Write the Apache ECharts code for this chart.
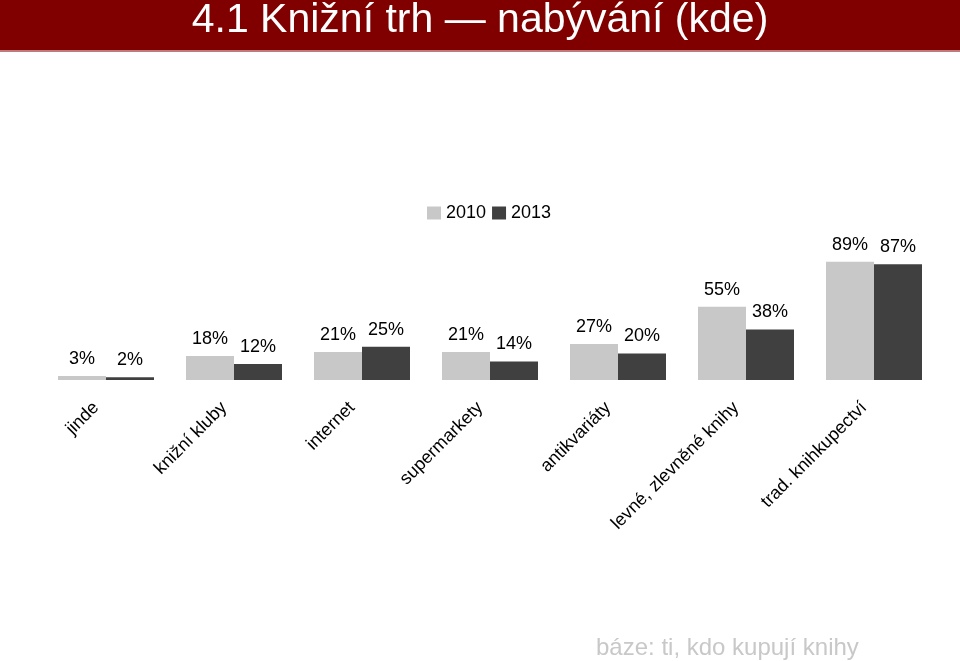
<!DOCTYPE html>
<html>
<head>
<meta charset="utf-8">
<script src="https://cdn.jsdelivr.net/npm/echarts@6/dist/echarts.min.js"></script>
<style>
html,body{margin:0;padding:0;background:#fff;}
#chart{width:960px;height:661px;}
</style>
</head>
<body>
<div id="chart"></div>
<script>
var categories = ['jinde', 'knižní kluby', 'internet', 'supermarkety', 'antikvariáty', 'levné, zlevněné knihy', 'trad. knihkupectví'];
var values2010 = [3, 18, 21, 21, 27, 55, 89];
var values2013 = [2, 12, 25, 14, 20, 38, 87];
var seriesNames = ['2010', '2013'];
var titleText = '4.1 Knižní trh — nabývání (kde)';
var footerText = 'báze: ti, kdo kupují knihy';

var chart = echarts.init(document.getElementById('chart'));
var font = '"Liberation Sans", Arial, sans-serif';
function pctLabel(p) { return p.value + '%'; }
chart.setOption({
  animation: false,
  backgroundColor: '#ffffff',
  textStyle: { fontFamily: font },
  graphic: [
    { type: 'rect', left: 0, top: 0, shape: { width: 960, height: 50 }, style: { fill: '#800000' }, z: 0 },
    { type: 'rect', left: 0, top: 50, shape: { width: 960, height: 2 }, style: { fill: '#c07a7a' }, z: 0 },
    { type: 'text', left: 'center', top: 0, style: { text: titleText, fill: '#ffffff', font: '41px ' + font }, z: 10 },
    { type: 'text', left: 596, top: 636, style: { text: footerText, fill: '#c8c8c8', font: '24px ' + font }, z: 10 }
  ],
  legend: {
    left: 422, top: 199,
    itemWidth: 14, itemHeight: 13, itemGap: 6,
    icon: 'rect',
    textStyle: { fontSize: 18, color: '#000', fontFamily: font },
    data: seriesNames
  },
  grid: { left: 42, right: 22, top: 247, bottom: 281 },
  xAxis: {
    type: 'category',
    data: categories,
    axisLine: { show: false },
    axisTick: { show: false },
    axisLabel: { rotate: 45, fontSize: 18, color: '#000', margin: 15, padding: [0, 14, 0, 0], fontFamily: font, interval: 0 }
  },
  yAxis: { type: 'value', min: 0, max: 100, show: false, splitLine: { show: false } },
  series: [
    {
      name: seriesNames[0], type: 'bar', data: values2010, barWidth: 48, barGap: '0%',
      itemStyle: { color: '#c8c8c8' },
      label: { show: true, position: 'top', distance: 8, fontSize: 18, color: '#000', formatter: pctLabel, fontFamily: font }
    },
    {
      name: seriesNames[1], type: 'bar', data: values2013, barWidth: 48, barGap: '0%',
      itemStyle: { color: '#404040' },
      label: { show: true, position: 'top', distance: 8, fontSize: 18, color: '#000', formatter: pctLabel, fontFamily: font }
    }
  ]
});
</script>
</body>
</html>
